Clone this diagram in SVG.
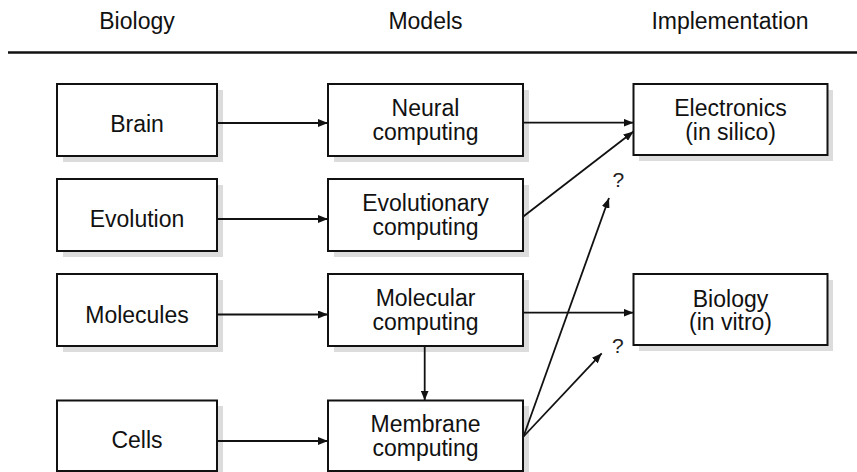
<svg xmlns="http://www.w3.org/2000/svg" width="857" height="472" viewBox="0 0 857 472">
  <style>
    .shadow { fill: #dcdcdc; }
    .box { fill: #ffffff; stroke: #111; stroke-width: 2; }
    .lbl { font-family: "Liberation Sans", Arial, Helvetica, sans-serif; font-size: 23px; fill: #111; text-anchor: middle; }
    .q { font-family: "Liberation Sans", Arial, Helvetica, sans-serif; font-size: 21px; fill: #222; }
    .conn line { stroke: #111; stroke-width: 1.8; fill: none; marker-end: url(#arrow); }
  </style>
  <defs>
    <marker id="arrow" markerUnits="userSpaceOnUse" markerWidth="11" markerHeight="8" refX="10" refY="4" orient="auto">
      <path d="M0,0 L10,4 L0,8 z" fill="#111"/>
    </marker>
  </defs>

  <rect width="857" height="472" fill="#ffffff"/>

  <!-- column headings and rule -->
  <g id="headings">
    <text class="lbl" x="137" y="29">Biology</text>
    <text class="lbl" x="425.5" y="29">Models</text>
    <text class="lbl" x="730" y="29">Implementation</text>
    <line x1="8" y1="52.5" x2="857" y2="52.5" stroke="#111" stroke-width="2.5"/>
  </g>

  <!-- Biology column -->
  <g id="brain">
    <rect class="shadow" x="63" y="90" width="160" height="72"/>
    <rect class="box" x="57" y="84" width="160" height="72"/>
    <text class="lbl" x="137" y="132">Brain</text>
  </g>
  <g id="evolution">
    <rect class="shadow" x="63" y="185" width="160" height="72"/>
    <rect class="box" x="57" y="179" width="160" height="72"/>
    <text class="lbl" x="137" y="227">Evolution</text>
  </g>
  <g id="molecules">
    <rect class="shadow" x="63" y="280" width="160" height="72"/>
    <rect class="box" x="57" y="274" width="160" height="72"/>
    <text class="lbl" x="137" y="322.5">Molecules</text>
  </g>
  <g id="cells">
    <rect class="shadow" x="63" y="406" width="160" height="72"/>
    <rect class="box" x="57" y="400.5" width="160" height="70.5"/>
    <text class="lbl" x="137" y="448">Cells</text>
  </g>

  <!-- Models column -->
  <g id="neural-computing">
    <rect class="shadow" x="334" y="90" width="195" height="72"/>
    <rect class="box" x="328" y="84" width="195" height="72"/>
    <text class="lbl" x="425.5" y="116">Neural</text>
    <text class="lbl" x="425.5" y="139.5">computing</text>
  </g>
  <g id="evolutionary-computing">
    <rect class="shadow" x="334" y="185" width="195" height="72"/>
    <rect class="box" x="328" y="179" width="195" height="72"/>
    <text class="lbl" x="425.5" y="211">Evolutionary</text>
    <text class="lbl" x="425.5" y="234.5">computing</text>
  </g>
  <g id="molecular-computing">
    <rect class="shadow" x="334" y="280" width="195" height="72"/>
    <rect class="box" x="328" y="274" width="195" height="72"/>
    <text class="lbl" x="425.5" y="306">Molecular</text>
    <text class="lbl" x="425.5" y="329.5">computing</text>
  </g>
  <g id="membrane-computing">
    <rect class="shadow" x="334" y="406" width="195" height="72"/>
    <rect class="box" x="328" y="400.5" width="195" height="70.5"/>
    <text class="lbl" x="425.5" y="432">Membrane</text>
    <text class="lbl" x="425.5" y="455.5">computing</text>
  </g>

  <!-- Implementation column -->
  <g id="electronics">
    <rect class="shadow" x="639" y="90" width="194" height="71"/>
    <rect class="box" x="633.5" y="84" width="194" height="71"/>
    <text class="lbl" x="730.5" y="116">Electronics</text>
    <text class="lbl" x="730.5" y="139.5">(in silico)</text>
  </g>
  <g id="biology-in-vitro">
    <rect class="shadow" x="639" y="280" width="194" height="71"/>
    <rect class="box" x="633.5" y="274" width="194" height="71"/>
    <text class="lbl" x="730.5" y="306.5">Biology</text>
    <text class="lbl" x="730.5" y="330">(in vitro)</text>
  </g>

  <!-- connectors -->
  <g id="connectors" class="conn">
    <line x1="217" y1="123" x2="328" y2="123"/>
    <line x1="217" y1="219" x2="328" y2="219"/>
    <line x1="217" y1="314.5" x2="328" y2="314.5"/>
    <line x1="217" y1="441" x2="328" y2="441"/>
    <line x1="523" y1="122.7" x2="633.5" y2="122.7"/>
    <line x1="523" y1="216.7" x2="633.5" y2="131.5"/>
    <line x1="523" y1="312.7" x2="633.5" y2="312.7"/>
    <line x1="424.7" y1="346" x2="424.7" y2="400.5"/>
    <line x1="523.5" y1="436.5" x2="609" y2="198"/>
    <line x1="523.5" y1="436.5" x2="601.7" y2="353.3"/>
  </g>

  <!-- open questions -->
  <g id="question-marks">
    <text class="q" x="612.5" y="186.5">?</text>
    <text class="q" x="612" y="353">?</text>
  </g>
</svg>
